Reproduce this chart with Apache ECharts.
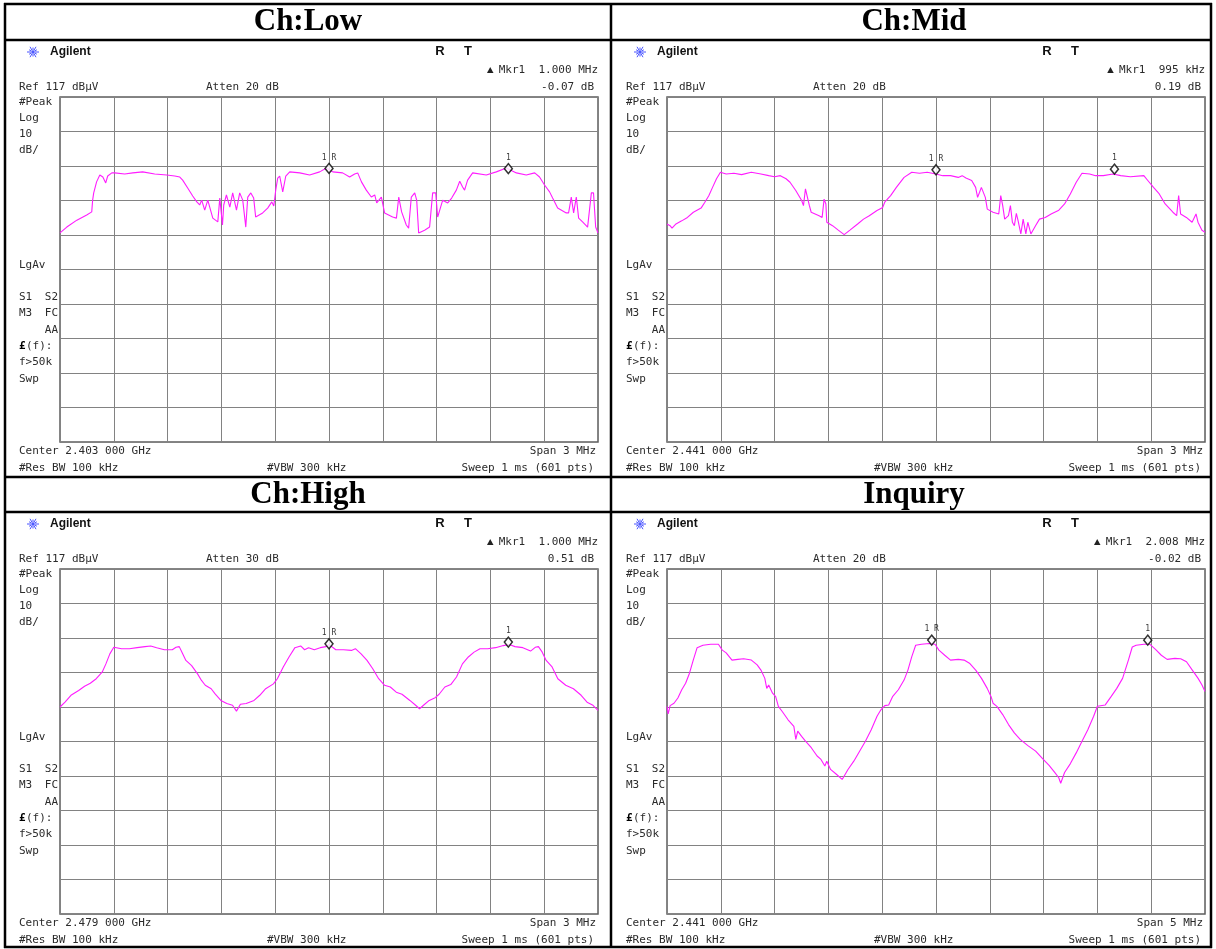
<!DOCTYPE html>
<html>
<head>
<meta charset="utf-8">
<script src="https://cdn.jsdelivr.net/npm/echarts@6/dist/echarts.min.js"></script>
<style>
html, body { margin: 0; padding: 0; background: #fff; }
#chart { width: 1216px; height: 949px; }
</style>
</head>
<body>
<div id="chart"></div>
<script>
// ---- Trace data: frequency offset from centre (kHz) and level (dBµV) ----
const lowFreq = [-1500,-1462,-1406,-1351,-1323,-1318,-1312,-1296,-1278,-1261,-1245,-1234,-1211,-1195,-1139,-1094,-1039,-972,-905,-860,-832,-816,-788,-760,-737,-721,-710,-693,-676,-648,-620,-609,-594,-587,-572,-553,-537,-516,-498,-481,-464,-453,-436,-420,-409,-370,-342,-319,-308,-297,-286,-275,-258,-241,-219,-163,-108,-52,-14,21,76,115,143,160,181,208,236,255,266,292,310,355,376,389,405,431,444,459,478,489,500,533,561,578,595,606,634,662,684,710,729,745,756,773,801,877,933,989,1045,1100,1147,1174,1202,1230,1247,1275,1323,1336,1351,1364,1379,1392,1414,1442,1463,1475,1487,1500];
const lowLevel = [77.6,79.3,81.3,82.8,83.7,87.1,89.2,92.4,94.4,93.8,92.1,94.1,95.0,95.0,94.7,95.0,95.3,94.7,94.4,94.1,93.8,92.9,90.6,88.3,86.6,85.7,87.1,84.2,87.1,81.9,80.8,87.7,79.9,85.7,88.6,85.1,89.2,84.2,89.2,87.1,79.3,88.0,89.2,87.7,82.2,83.4,84.8,86.6,85.4,90.0,93.5,94.1,89.5,94.1,95.3,95.0,94.4,95.3,96.4,95.3,95.0,93.8,94.7,95.0,92.4,90.0,88.0,88.6,86.3,88.0,83.4,82.2,81.9,88.0,83.7,79.9,79.0,88.0,89.2,87.1,77.6,78.4,79.3,89.2,89.2,82.2,87.1,86.3,87.7,90.0,92.6,90.9,90.0,92.9,95.0,94.4,95.3,96.4,95.0,94.4,95.0,93.8,91.5,89.5,87.7,84.8,83.4,83.4,88.0,83.4,88.0,81.9,80.8,79.3,89.2,89.2,79.3,77.6];

const midFreq = [-1500,-1483,-1472,-1450,-1418,-1386,-1353,-1310,-1289,-1267,-1246,-1224,-1202,-1170,-1127,-1084,-1030,-976,-933,-900,-868,-836,-814,-782,-749,-739,-728,-717,-706,-696,-652,-635,-624,-614,-609,-577,-545,-512,-480,-437,-404,-372,-329,-297,-286,-253,-221,-178,-135,-92,-49,-1,38,81,124,146,167,199,221,232,243,253,264,275,286,318,350,361,372,383,404,415,426,437,448,458,473,486,501,512,529,555,577,609,642,685,717,749,782,814,857,890,933,987,1030,1084,1159,1181,1213,1245,1278,1321,1342,1353,1364,1396,1428,1450,1461,1483,1500];
const midLevel = [80.2,79.7,79.0,80.2,81.1,82.1,83.6,84.8,86.5,88.4,90.8,93.3,95.2,94.7,94.9,94.5,95.2,94.7,94.2,93.9,94.2,93.3,92.3,89.9,87.0,85.5,90.4,90.6,85.5,83.6,82.6,82.1,87.4,86.0,80.7,79.7,78.4,77.1,78.4,80.2,81.6,82.6,84.1,85.0,86.5,88.4,90.8,93.7,95.2,94.9,95.2,94.7,94.2,94.2,93.7,94.2,93.5,92.8,90.8,87.9,89.4,90.8,90.4,87.9,84.5,83.6,83.1,88.4,85.5,81.6,82.6,85.5,80.7,79.7,83.3,81.1,77.3,81.6,77.3,80.7,77.3,79.7,81.6,82.1,83.1,84.2,86.0,88.9,92.3,94.9,94.7,94.2,94.2,94.7,94.2,93.9,94.2,92.8,90.8,88.9,86.0,83.6,82.6,88.4,83.1,82.1,80.7,83.1,80.7,78.4,77.8];

const highFreq = [-1500,-1472,-1439,-1396,-1363,-1331,-1298,-1265,-1244,-1222,-1200,-1157,-1113,-1070,-1026,-994,-961,-918,-874,-853,-835,-820,-798,-766,-733,-711,-690,-657,-635,-603,-570,-538,-516,-494,-462,-418,-386,-353,-310,-288,-255,-223,-190,-158,-136,-114,-82,-49,-17,0,38,81,125,147,179,212,244,277,310,342,375,407,451,483,505,527,559,592,614,646,679,711,744,777,809,842,885,929,972,1005,1037,1081,1124,1150,1168,1189,1211,1244,1276,1320,1363,1406,1439,1472,1500];
const highLevel = [77.0,78.4,80.4,81.8,83.0,83.9,85.2,87.1,89.5,92.4,94.3,93.9,93.9,94.2,94.5,94.7,94.2,93.6,93.6,94.3,94.5,92.9,90.5,89.0,86.6,84.7,83.3,82.3,80.8,78.9,78.0,77.5,75.8,77.8,78.0,78.9,80.4,82.3,83.7,85.2,88.6,91.5,94.2,94.7,93.6,94.2,93.6,94.2,94.5,95.1,93.6,93.6,93.4,93.9,92.4,90.5,88.1,85.2,83.3,82.8,81.3,80.7,78.9,77.5,76.5,77.5,78.9,79.7,80.7,82.8,83.5,85.7,89.5,91.5,92.9,93.9,93.9,94.2,94.8,95.1,94.5,94.2,93.2,94.3,94.5,92.9,90.5,88.6,85.2,83.3,82.3,80.4,78.4,77.5,76.0];

const inqFreq = [-2500,-2489,-2471,-2435,-2399,-2363,-2327,-2291,-2256,-2220,-2166,-2094,-2022,-1986,-1950,-1896,-1842,-1788,-1716,-1662,-1627,-1591,-1573,-1555,-1519,-1490,-1465,-1429,-1375,-1321,-1303,-1285,-1249,-1213,-1159,-1105,-1069,-1033,-1015,-980,-926,-872,-818,-764,-710,-656,-602,-548,-512,-476,-440,-404,-350,-297,-261,-225,-189,-135,-63,-9,27,81,135,207,261,315,369,423,476,512,530,566,620,674,728,782,854,926,997,1051,1105,1141,1159,1195,1249,1303,1357,1411,1465,1500,1573,1627,1680,1734,1788,1824,1860,1932,1986,2040,2094,2148,2220,2274,2328,2382,2436,2472,2500];
const inqLevel = [77.2,75.0,77.4,78.1,79.6,82.0,83.9,86.8,90.6,94.2,94.9,95.2,95.2,93.5,92.7,90.6,90.8,91.0,90.6,89.2,87.7,85.3,82.4,83.4,81.0,80.0,77.2,75.7,73.3,71.4,67.6,70.0,68.5,67.1,65.2,62.8,61.8,59.9,61.3,58.9,57.5,56.0,58.9,61.3,64.2,67.1,70.4,74.3,76.2,77.4,77.6,80.0,82.0,84.8,87.7,91.6,94.9,95.2,95.4,95.2,93.5,92.0,90.6,90.8,90.6,89.6,87.7,85.3,82.4,80.0,78.1,77.2,74.8,71.9,69.5,67.6,65.8,64.2,61.8,60.1,58.0,56.5,54.9,58.0,60.6,63.7,67.1,70.4,74.3,77.2,77.6,80.0,82.4,85.3,90.6,94.4,94.9,95.2,95.2,93.7,92.0,90.8,91.1,91.0,90.1,87.7,85.3,83.4,81.5];

// ---- Marker readouts (reference marker and delta marker) ----
const mkrRefFreq = [0, 0, 0, -40];
const mkrRefLevel = [96.3, 95.9, 95.3, 96.4];
const mkrDeltaFreq = [1000, 995, 1000, 2008];
const mkrDeltaLevel = [-0.07, 0.19, 0.51, -0.02];

// ---- Panel captions and instrument settings ----
const titles = ['Ch:Low', 'Ch:Mid', 'Ch:High', 'Inquiry'];
const centerLabels = ['Center 2.403 000 GHz', 'Center 2.441 000 GHz', 'Center 2.479 000 GHz', 'Center 2.441 000 GHz'];
const spanLabels = ['Span 3 MHz', 'Span 3 MHz', 'Span 3 MHz', 'Span 5 MHz'];
const attenLabels = ['Atten 20 dB', 'Atten 20 dB', 'Atten 30 dB', 'Atten 20 dB'];
const halfSpans = [1500, 1500, 1500, 2500];   // kHz
const refLevel = 117;                           // dBµV, top of screen
const dbPerDiv = 10;

const traces = [[lowFreq, lowLevel], [midFreq, midLevel], [highFreq, highLevel], [inqFreq, inqLevel]];

// ---- Layout ----
const offsets = [[0, 0], [607, 0], [0, 472], [607, 472]];
const GRID = { left: 60, top: 97, width: 538, height: 345 };
const MONO = '"DejaVu Sans Mono", "Liberation Mono", monospace';
const CHAR_W = 6.62;   // advance of the 11px mono font
const TXT = '#2b2b2b';
const TRACE = '#ff1cff';

function fmtFreq(f) {
  return f >= 1000 ? (f / 1000).toFixed(3) + ' MHz' : f + ' kHz';
}
function fmtDb(d) {
  return d.toFixed(2) + ' dB';
}

function txt(x, y, text, opt) {
  opt = opt || {};
  return {
    type: 'text', x: x, y: y, silent: true, z: 10,
    style: {
      text: text,
      font: opt.font || ('11px ' + MONO),
      fill: opt.fill || TXT,
      align: opt.align || 'left',
      verticalAlign: 'middle'
    }
  };
}

function logo(cx, cy) {
  const rays = [];
  for (let k = 0; k < 12; k++) {
    const a = k * Math.PI / 6;
    const r0 = 1.5, r1 = (k % 2 === 0) ? 6 : 4.5;
    rays.push({
      type: 'line', silent: true, z: 10,
      shape: { x1: cx + r0 * Math.cos(a), y1: cy + r0 * Math.sin(a), x2: cx + r1 * Math.cos(a), y2: cy + r1 * Math.sin(a) },
      style: { stroke: '#4a55ff', lineWidth: 1 }
    });
  }
  rays.push({ type: 'circle', silent: true, z: 10, shape: { cx: cx, cy: cy, r: 1.2 }, style: { fill: '#4a55ff' } });
  return rays;
}

function panelText(i) {
  const dx = offsets[i][0], dy = offsets[i][1];
  const X = (v) => v + dx, Y = (v) => v + dy;
  const els = [];
  // title cell
  els.push(txt(dx + 308 + (i % 2 ? -1 : 0), i < 2 ? 22 : 495, titles[i],
    { font: 'bold 31px "Liberation Serif", "Times New Roman", serif', fill: '#000', align: 'center' }));
  // header
  els.push(...logo(X(33), Y(52)));
  els.push(txt(X(50), Y(52), 'Agilent', { font: 'bold 12px "Liberation Sans", Arial, sans-serif', fill: '#111' }));
  els.push(txt(X(440), Y(51), 'R', { font: 'bold 13px "Liberation Sans", Arial, sans-serif', fill: '#111', align: 'center' }));
  els.push(txt(X(468), Y(51), 'T', { font: 'bold 13px "Liberation Sans", Arial, sans-serif', fill: '#111', align: 'center' }));
  const mkrText = 'Mkr1  ' + fmtFreq(mkrDeltaFreq[i]);
  const triX = 598 - mkrText.length * CHAR_W - 8.5;
  els.push({
    type: 'polygon', silent: true, z: 10,
    shape: { points: [[X(triX - 3.2), Y(73)], [X(triX + 3.3), Y(73)], [X(triX), Y(67)]] },
    style: { fill: '#222' }
  });
  els.push(txt(X(598), Y(70), mkrText, { align: 'right' }));
  els.push(txt(X(594), Y(87), fmtDb(mkrDeltaLevel[i]), { align: 'right' }));
  els.push(txt(X(19), Y(87), 'Ref ' + refLevel + ' dBµV'));
  els.push(txt(X(206), Y(87), attenLabels[i]));
  // left annotation column
  els.push(txt(X(19), Y(102), '#Peak'));
  els.push(txt(X(19), Y(118), 'Log'));
  els.push(txt(X(19), Y(134), String(dbPerDiv)));
  els.push(txt(X(19), Y(150), 'dB/'));
  els.push(txt(X(19), Y(265), 'LgAv'));
  els.push(txt(X(19), Y(297), 'S1'));
  els.push(txt(X(58), Y(297), 'S2', { align: 'right' }));
  els.push(txt(X(19), Y(313), 'M3'));
  els.push(txt(X(58), Y(313), 'FC', { align: 'right' }));
  els.push(txt(X(58), Y(330), 'AA', { align: 'right' }));
  els.push(txt(X(19), Y(346), '£', { font: 'bold 11px ' + MONO, fill: '#000' }));
  els.push(txt(X(26), Y(346), '(f):'));
  els.push(txt(X(19), Y(362), 'f>50k'));
  els.push(txt(X(19), Y(379), 'Swp'));
  // footer
  els.push(txt(X(19), Y(451), centerLabels[i]));
  els.push(txt(X(596), Y(451), spanLabels[i], { align: 'right' }));
  els.push(txt(X(19), Y(468), '#Res BW 100 kHz'));
  els.push(txt(X(267), Y(468), '#VBW 300 kHz'));
  els.push(txt(X(594), Y(468), 'Sweep 1 ms (601 pts)', { align: 'right' }));
  return els;
}

function rule(x1, y1, x2, y2) {
  return { type: 'line', silent: true, z: 20, shape: { x1, y1, x2, y2 }, style: { stroke: '#000', lineWidth: 2.5 } };
}

const tableLines = [
  rule(4, 4, 1212, 4), rule(4, 947, 1212, 947),
  rule(5, 3, 5, 948), rule(1211, 3, 1211, 948),
  rule(4, 40, 1212, 40), rule(4, 477, 1212, 477), rule(4, 512, 1212, 512),
  rule(611, 3, 611, 948)
];

const grids = [], xAxes = [], yAxes = [], series = [];
for (let i = 0; i < 4; i++) {
  grids.push({
    left: GRID.left + offsets[i][0], top: GRID.top + offsets[i][1],
    width: GRID.width, height: GRID.height,
    show: true, borderColor: '#5e5e5e', borderWidth: 1.5, backgroundColor: '#fff'
  });
  const hs = halfSpans[i];
  xAxes.push({
    type: 'value', gridIndex: i, min: -hs, max: hs, interval: hs / 5,
    axisLine: { show: false }, axisTick: { show: false }, axisLabel: { show: false },
    splitLine: { show: true, lineStyle: { color: '#828282', width: 1 } }
  });
  yAxes.push({
    type: 'value', gridIndex: i, min: refLevel - 10 * dbPerDiv, max: refLevel, interval: dbPerDiv,
    axisLine: { show: false }, axisTick: { show: false }, axisLabel: { show: false },
    splitLine: { show: true, lineStyle: { color: '#828282', width: 1 } }
  });
  const [fr, lv] = traces[i];
  series.push({
    type: 'line', xAxisIndex: i, yAxisIndex: i,
    data: fr.map((f, k) => [f, lv[k]]),
    showSymbol: false, symbol: 'none', smooth: false, clip: true,
    lineStyle: { color: TRACE, width: 1.1 }, z: 3
  });
  series.push({
    type: 'scatter', xAxisIndex: i, yAxisIndex: i, z: 5,
    symbol: 'diamond', symbolSize: [8, 10],
    itemStyle: { color: '#fff', borderColor: '#000', borderWidth: 1.5 },
    label: {
      show: true, position: 'top', distance: 1,
      fontSize: 8, fontFamily: MONO, color: '#000',
      formatter: (p) => p.data[2]
    },
    data: [
      [mkrRefFreq[i], mkrRefLevel[i], '1 R'],
      [mkrRefFreq[i] + mkrDeltaFreq[i], mkrRefLevel[i] + mkrDeltaLevel[i], '1']
    ]
  });
}

let graphics = [];
for (let i = 0; i < 4; i++) graphics = graphics.concat(panelText(i));
graphics = graphics.concat(tableLines);

const chart = echarts.init(document.getElementById('chart'), null, { renderer: 'canvas' });
chart.setOption({
  backgroundColor: '#fff',
  animation: false,
  grid: grids,
  xAxis: xAxes,
  yAxis: yAxes,
  series: series,
  graphic: { elements: graphics }
});
</script>
</body>
</html>
